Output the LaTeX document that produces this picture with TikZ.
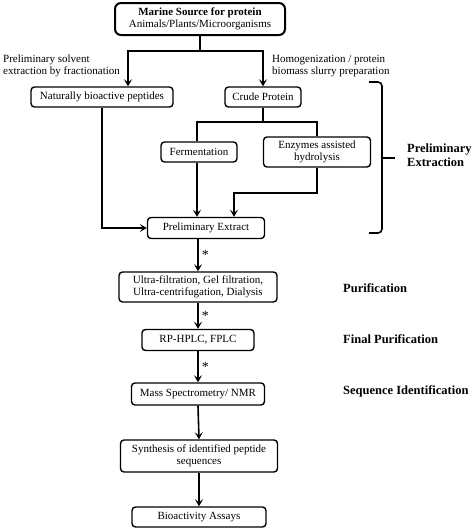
\documentclass[tikz,border=0pt]{standalone}
\usepackage{fontspec}
\setmainfont{Liberation Serif}
\usepackage{tikz}
\usetikzlibrary{arrows.meta}

\begin{document}
\begin{tikzpicture}[x=1pt,y=-1pt,font=\fontsize{11}{11.8}\selectfont]
            \useasboundingbox (0,0) rectangle (474,531);

            \begin{scope}[every node/.style={draw,rounded corners=3.5pt,line width=1.4pt,align=center,inner sep=1pt,minimum height=20pt}]
                \node (A) [line width=2pt,rounded corners=6pt,minimum width=170pt,minimum height=32pt] at (200,19) {\textbf{Marine Source for protein}\\Animals/Plants/Microorganisms};
                \node (B) [minimum width=142pt] at (102,97) {Naturally bioactive peptides};
                \node (C) [minimum width=76pt] at (263,97) {Crude Protein};
                \node (D) [minimum width=76pt] at (199,152) {Fermentation};
                \node (E) [minimum width=107pt,minimum height=30pt] at (317,152) {Enzymes assisted\\hydrolysis};
                \node (F) [minimum width=117pt,minimum height=21pt] at (206,228) {Preliminary Extract};
                \node (G) [minimum width=158pt,minimum height=30pt] at (198,287) {Ultra-filtration, Gel filtration,\\Ultra-centrifugation, Dialysis};
                \node (H) [minimum width=112pt,minimum height=21pt] at (198,340) {RP-HPLC, FPLC};
                \node (I) [minimum width=133pt,minimum height=22pt] at (198,394) {Mass Spectrometry/ NMR};
                \node (J) [minimum width=157pt,minimum height=32pt] at (199,456) {Synthesis of identified peptide\\sequences};
                \node (K) [minimum width=134pt] at (199,517) {Bioactivity Assays};

            \end{scope}

            \begin{scope}[every node/.style={anchor=west,align=left,inner sep=0pt}]
                \node (L1) at (3,66) {Preliminary solvent\\extraction by fractionation};
                \node (L2) at (272,66) {Homogenization / protein\\biomass slurry preparation};

            \end{scope}

            \begin{scope}[every node/.style={anchor=west,align=left,inner sep=0pt,font=\fontsize{12.5}{14}\selectfont\bfseries}]
                \node (S1) at (407,155) {Preliminary\\Extraction};
                \node (S2) at (343,288) {Purification};
                \node (S3) at (343,339) {Final Purification};
                \node (S4) at (343,391) {Sequence Identification};

            \end{scope}

            \begin{scope}[>={Stealth[length=7pt,width=8pt,inset=3pt]},
                          line width=1.6pt,
                          every node/.style={right=3pt,inner sep=0pt,font=\fontsize{14}{14}\selectfont}]
                \draw [->] (A.south) -- ++(0,15) -| ([xshift=26pt]B.north);
                \draw [->] (A.south) -- ++(0,15) -| (C.north);
                \draw (C.south) -- ++(0,14) -| ([xshift=-2pt]D.north);
                \draw (C.south) -- ++(0,14) -| (E.north);
                \draw [->] ([xshift=-2pt]D.south) -- ([xshift=-2pt]D.south |- F.north);
                \draw [->] (E.south) -- ++(0,25) -| ([xshift=28pt]F.north);
                \draw [->] (B.south) |- (F.west);
                \draw [->] (F.south -| G.north) -- node[pos=0.5] {*} (G.north);
                \draw [->] (G.south) -- node[pos=0.5] {*} (H.north);
                \draw [->] (H.south) -- node[pos=0.5] {*} (I.north);
                \draw [->] (I.south) -- (J.north);
                \draw [->] (J.south) -- (K.north);

                % brace
                \draw [rounded corners=4pt] (369,82) -- (382,82) -- (382,233) -- (369,233);
                \draw (382,158) -- (395,158);

            \end{scope}
        \end{tikzpicture}
\end{document}
